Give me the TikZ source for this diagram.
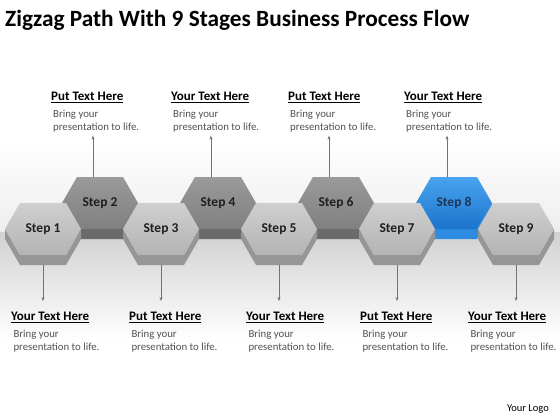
\documentclass[tikz,border=0pt]{standalone}
\usepackage{fontspec}
\setmainfont{Carlito}
\usetikzlibrary{arrows.meta}
\tikzset {>=Stealth}
\definecolor{oddtop}{HTML}{CFCFCF}
\definecolor{oddbot}{HTML}{B4B4B4}
\definecolor{oddside}{HTML}{969696}
\definecolor{evtop}{HTML}{9A9A9A}
\definecolor{evbot}{HTML}{808080}
\definecolor{evside}{HTML}{6B6B6B}
\definecolor{bltop}{HTML}{4AA3EE}
\definecolor{blbot}{HTML}{1C74CC}
\definecolor{blside}{HTML}{2D8CE0}
\definecolor{bltext}{HTML}{1C3658}
\tikzset{
  steplabel/.style={font=\fontsize{13.5}{16}\selectfont\bfseries,
    minimum width=46pt, minimum height=52pt, inner sep=0pt},
  headtext/.style={font=\fontsize{13}{15}\selectfont\bfseries,
    anchor=base west, inner sep=0pt},
  bodytext/.style={font=\fontsize{10.8}{13.4}\selectfont, text=black!68,
    anchor=base west, inner sep=0pt, align=left},
  arr/.style={->, draw=black!55, line width=.6pt,
    >={Stealth[length=4pt,width=3pt]}}
}

\begin{document}
\begin{tikzpicture}[x=1pt,y=-1pt]
\useasboundingbox (0,0) rectangle (560,420);
\shade[top color=white, bottom color=black!7] (0,140) rectangle (560,232);
\shade[top color=black!18, bottom color=white] (0,232) rectangle (560,340);
\node[anchor=base west, inner sep=0pt,
  font=\fontsize{23.3}{27}\selectfont\bfseries] (title) at (5,27)
  {Zigzag Path With 9 Stages Business Process Flow};
% hexagon prisms, back row first
\foreach \n/\x/\y/\ft/\fb/\sd/\tc in {2/100/203/evtop/evbot/evside/black!88,
    4/218/203/evtop/evbot/evside/black!88,6/336/203/evtop/evbot/evside/black!88,
    8/454/203/bltop/blbot/blside/bltext,
    1/43/229/oddtop/oddbot/oddside/black!88,3/161/229/oddtop/oddbot/oddside/black!88,
    5/279/229/oddtop/oddbot/oddside/black!88,7/397/229/oddtop/oddbot/oddside/black!88,
    9/516/229/oddtop/oddbot/oddside/black!88} {
  \fill[\sd] (\x-38,\y) -- (\x-23,\y+26) -- (\x+23,\y+26) -- (\x+38,\y)
    -- (\x+38,\y+10) -- (\x+23,\y+36) -- (\x-23,\y+36) -- (\x-38,\y+10) -- cycle;
  \shade[top color=\ft, bottom color=\fb] (\x-38,\y) -- (\x-23,\y-26)
    -- (\x+23,\y-26) -- (\x+38,\y) -- (\x+23,\y+26) -- (\x-23,\y+26) -- cycle;
  \node[steplabel, text=\tc] (s\n) at (\x,\y) {Step \n};
}
% texts above
\foreach \n/\x/\h in {2/51/Put,4/171/Your,6/288/Put,8/404/Your} {
  \node[headtext] (h\n) at (\x,100.7) {\underline{\h{} Text Here}};
  \node[bodytext] (b\n) at (\x+2,130.7) {Bring your\\presentation to life.};
  \draw[arr, shorten >=3pt] ([xshift=-7pt]s\n.north)
    -- ([xshift=-7pt]s\n.north |- b\n.south);
}
% texts below
\foreach \n/\x/\h in {1/11/Your,3/129/Put,5/246/Your,7/360/Put,9/468/Your} {
  \node[headtext] (h\n) at (\x,320.7) {\underline{\h{} Text Here}};
  \node[bodytext] (b\n) at (\x+2.3,350.7) {Bring your\\presentation to life.};
  \draw[arr, shorten >=11pt] ([yshift=-10pt]s\n.south) -- (s\n.south |- h\n.north);
}
\node[anchor=base east, inner sep=0pt, font=\fontsize{10.5}{12}\selectfont]
  (logo) at (549,411) {Your Logo};
\end{tikzpicture}
\end{document}
